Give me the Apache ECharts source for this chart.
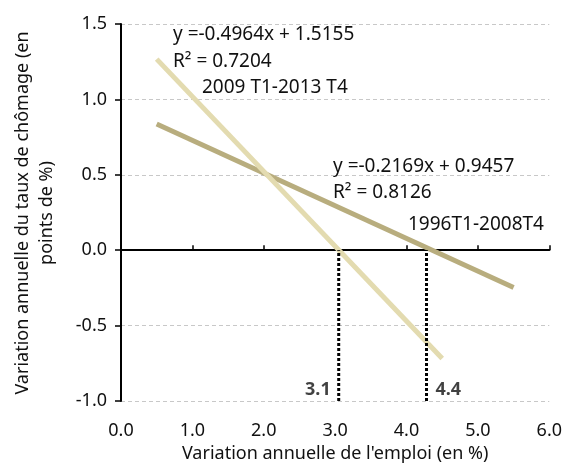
<!DOCTYPE html>
<html>
<head>
<meta charset="utf-8">
<script src="https://cdn.jsdelivr.net/npm/echarts@6/dist/echarts.min.js"></script>
<style>
html,body{margin:0;padding:0;background:#fff;}
#c{width:565px;height:470px;}
</style>
</head>
<body>
<div id="c"></div>
<script>
// Data
const series2009 = [[0.5, 1.267], [4.5, -0.718]];   // 2009 T1-2013 T4 fit
const series1996 = [[0.5, 0.837], [5.5, -0.247]];   // 1996T1-2008T4 fit
const thresholdX = [3.05, 4.28];
const thresholdLabels = ['3.1', '4.4'];
const eq2009 = ['y =-0.4964x + 1.5155', 'R\u00b2 = 0.7204', '2009 T1-2013 T4'];
const eq1996 = ['y =-0.2169x + 0.9457', 'R\u00b2 = 0.8126', '1996T1-2008T4'];
const xName = "Variation annuelle de l'emploi (en %)";
const yNameLines = ['Variation annuelle du taux de chômage (en', 'points de %)'];

const FONT = '"Noto Sans", sans-serif';
const FS = 18;
const FSE = 19;
const chart = echarts.init(document.getElementById('c'), null, {renderer: 'canvas'});

function txt(x, y, t) {
  return {
    type: 'text', x: x, y: y,
    style: {text: t, fill: '#111', font: FSE + 'px ' + FONT, align: 'left', verticalAlign: 'middle'}
  };
}

const series = [
  {type: 'line', data: series1996, symbol: 'none', lineStyle: {color: '#b8ad7e', width: 5}, z: 3},
  {type: 'line', data: series2009, symbol: 'none', lineStyle: {color: '#e3dbb0', width: 5}, z: 3}
];
thresholdX.forEach(function (x, i) {
  series.push({
    type: 'line', symbol: 'none', z: 4,
    data: [[x, -1], [x, 0]],
    lineStyle: {color: '#000', width: 3, type: [3, 2]}
  });
  series.push({
    type: 'scatter', symbolSize: 0, z: 5,
    data: [[x, -1]],
    label: {
      show: true, formatter: thresholdLabels[i], position: 'top', distance: 2,
      align: i === 0 ? 'right' : 'left', offset: [i === 0 ? -8 : 9, 0],
      fontFamily: FONT, fontSize: FS, fontWeight: 'bold', color: '#111'
    }
  });
});

chart.setOption({
  animation: false,
  backgroundColor: '#fff',
  grid: {left: 121, right: 15, top: 24, bottom: 69, containLabel: false},
  xAxis: [
    {
      type: 'value', min: 0, max: 6, interval: 1, position: 'bottom',
      axisLine: {show: false, onZero: false}, axisTick: {show: false}, splitLine: {show: false},
      axisLabel: {formatter: function (v) { return v.toFixed(1); }, margin: 21, color: '#111', fontFamily: FONT, fontSize: FS},
      name: xName, nameLocation: 'middle', nameGap: 44,
      nameTextStyle: {color: '#111', fontFamily: FONT, fontSize: FS}
    },
    {
      type: 'value', min: 0, max: 6, interval: 1, position: 'bottom',
      axisLine: {show: true, onZero: true, lineStyle: {color: '#000', width: 2}},
      axisTick: {show: true, inside: true, length: 5, lineStyle: {color: '#000', width: 1.5}},
      axisLabel: {show: false}, splitLine: {show: false}
    }
  ],
  yAxis: {
    type: 'value', min: -1, max: 1.5, interval: 0.5,
    axisLine: {show: true, onZero: false, lineStyle: {color: '#000', width: 2}},
    axisTick: {show: true, length: 6, lineStyle: {color: '#000', width: 1.5}},
    axisLabel: {formatter: function (v) { return v.toFixed(1); }, margin: 14, color: '#111', fontFamily: FONT, fontSize: FS},
    splitLine: {show: true, lineStyle: {color: '#c8c8c8', type: [4, 3], width: 1}}
  },
  series: series,
  graphic: [
    txt(173, 35, eq2009[0]),
    txt(173, 62, eq2009[1]),
    txt(202, 88, eq2009[2]),
    txt(333, 167, eq1996[0]),
    txt(333, 193, eq1996[1]),
    txt(408, 225, eq1996[2]),
    {type: 'text', x: 23, y: 213, rotation: Math.PI / 2,
     style: {text: yNameLines[0], fill: '#111', font: FS + 'px ' + FONT, align: 'center', verticalAlign: 'middle'}},
    {type: 'text', x: 47, y: 213, rotation: Math.PI / 2,
     style: {text: yNameLines[1], fill: '#111', font: FS + 'px ' + FONT, align: 'center', verticalAlign: 'middle'}}
  ]
});
</script>
</body>
</html>
